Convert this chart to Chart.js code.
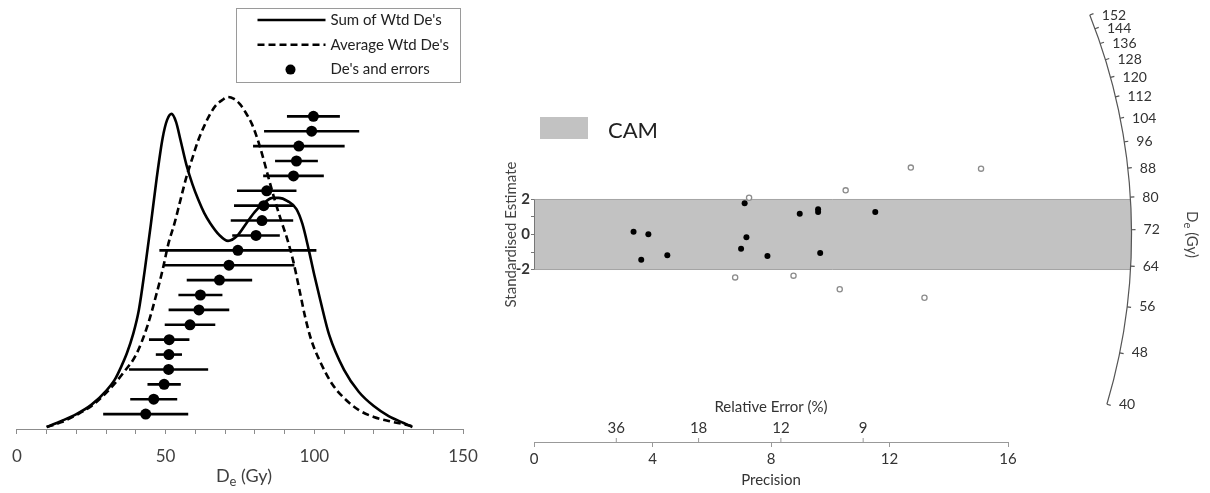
<!DOCTYPE html>
<html>
<head>
<meta charset="utf-8">
<script src="https://cdn.jsdelivr.net/npm/chart.js@4.4.0/dist/chart.umd.min.js"></script>
<style>
  html, body { margin: 0; padding: 0; background: #fff; }
  #wrap { position: relative; width: 1210px; height: 493px; overflow: hidden; }
  #dist { position: absolute; left: 0; top: 0; }
  #radial { position: absolute; left: 490px; top: 0; }
</style>
</head>
<body>
<div id="wrap">
  <canvas id="dist" width="490" height="493"></canvas>
  <canvas id="radial" width="720" height="493"></canvas>
</div>
<script>
const FONT = 'Lato, "Open Sans", sans-serif';

// ---- Dose distribution panel ----
// Summed weighted De kernel (Gy, relative density)
const sumDose = [10,15,20,25,30,33,35,37,39,41,43,45,47,49,50.5,52,53.5,55,57,59,61,63,65,68,71,74,77,80,83,86,88,91,94,96,98,100,102,105,110,115,120,125,130,133];
const sumDensity = [0.005,0.020,0.037,0.060,0.095,0.124,0.154,0.189,0.234,0.296,0.396,0.507,0.624,0.724,0.769,0.784,0.764,0.719,0.657,0.609,0.570,0.537,0.512,0.483,0.468,0.480,0.510,0.540,0.562,0.575,0.575,0.567,0.547,0.510,0.450,0.383,0.321,0.234,0.147,0.092,0.057,0.032,0.015,0.005];

// Average weighted De kernel
const avgDose = [10,15,20,25,30,33,36,40,44,47,49,51,53,55,57,59,61,63,65,67,69,71,73,75,77,79,81,83,85,87,89,91,93,95,97,99,102,106,110,115,120,125,130,133];
const avgDensity = [0.005,0.017,0.035,0.057,0.090,0.114,0.142,0.184,0.259,0.338,0.396,0.463,0.512,0.570,0.627,0.674,0.719,0.754,0.784,0.806,0.818,0.826,0.821,0.808,0.786,0.759,0.719,0.669,0.614,0.562,0.515,0.470,0.415,0.346,0.276,0.221,0.167,0.112,0.077,0.047,0.030,0.020,0.012,0.007];

// Individual aliquot De's (Gy) and 1-sigma errors, ranked from the bottom
const deValues = [43.3,46.0,49.5,51.0,51.1,51.2,58.2,61.2,61.7,68.1,71.3,74.3,80.4,82.4,83.0,84.0,93.0,94.0,94.8,99.1,99.7];
const deErrors = [14.3,7.9,5.6,13.3,4.4,6.8,8.5,10.2,7.4,11.0,22.0,26.4,8.0,10.5,10.0,10.0,10.2,7.2,15.4,16.0,8.9];

// ---- Radial plot panel ----
const precisionIn = [3.36,3.86,3.62,4.50,7.11,7.17,6.99,7.88,8.97,9.59,9.59,9.66,11.52];
const stdEstIn = [0.16,0.01,-1.44,-1.19,1.78,-0.16,-0.81,-1.23,1.19,1.44,1.29,-1.06,1.29];
const precisionOut = [7.26,6.79,8.76,10.52,10.32,12.72,13.18,15.09];
const stdEstOut = [2.10,-2.45,-2.35,2.52,-3.13,3.82,-3.61,3.76];

const camBand = [-2, 2];
const camDe = 70.9;          // central age model De (Gy)
const arcPrecision = 20.17;  // radius of the De scale, in precision units
const arcSlope = 0.876;
const deArcTicks = [40,48,56,64,72,80,88,96,104,112,120,128,136,144,152];
const relErrorTicks = [36,18,12,9];
const stdTicks = [-2,-1,0,1,2];

// draws e.g. D + subscript e + " (Gy)"
function drawSubLabel(ctx, parts, x, y, size, rotation, color) {
  ctx.save();
  ctx.translate(x, y);
  ctx.rotate(rotation);
  const big = size + 'px ' + FONT;
  const small = Math.round(size * 0.72) + 'px ' + FONT;
  let total = 0;
  parts.forEach(([t, sub]) => { ctx.font = sub ? small : big; total += ctx.measureText(t).width; });
  let cx = -total / 2;
  ctx.fillStyle = color;
  ctx.textBaseline = 'middle';
  ctx.textAlign = 'left';
  parts.forEach(([t, sub]) => {
    ctx.font = sub ? small : big;
    ctx.fillText(t, cx, sub ? size * 0.32 : 0);
    cx += ctx.measureText(t).width;
  });
  ctx.restore();
}

const errorBars = {
  id: 'errorBars',
  beforeDatasetsDraw(chart) {
    const { ctx } = chart;
    const xs = chart.scales.x, yr = chart.scales.yr;
    ctx.save();
    ctx.strokeStyle = '#000';
    ctx.lineWidth = 2.6;
    deValues.forEach((v, i) => {
      const y = yr.getPixelForValue(i + 1);
      ctx.beginPath();
      ctx.moveTo(xs.getPixelForValue(v - deErrors[i]), y);
      ctx.lineTo(xs.getPixelForValue(v + deErrors[i]), y);
      ctx.stroke();
    });
    ctx.restore();
  }
};

const boxLegend = {
  id: 'boxLegend',
  afterDraw(chart) {
    const { ctx } = chart;
    const x = 236.5, y = 8.5, w = 224, h = 74;
    ctx.save();
    ctx.strokeStyle = '#9a9a9a';
    ctx.lineWidth = 1;
    ctx.strokeRect(x, y, w, h);
    ctx.font = '15px ' + FONT;
    ctx.textBaseline = 'middle';
    chart.data.datasets.forEach((ds, i) => {
      const cy = y + 11.5 + i * 24.8;
      if (ds.showLine === false) {
        ctx.fillStyle = '#000';
        ctx.beginPath();
        ctx.arc(x + 54, cy, 5, 0, Math.PI * 2);
        ctx.fill();
      } else {
        ctx.strokeStyle = ds.borderColor;
        ctx.lineWidth = ds.borderWidth;
        ctx.setLineDash(ds.borderDash || []);
        ctx.beginPath();
        ctx.moveTo(x + 21, cy);
        ctx.lineTo(x + 89, cy);
        ctx.stroke();
        ctx.setLineDash([]);
      }
      ctx.fillStyle = '#222';
      ctx.fillText(ds.label, x + 94, cy);
    });
    ctx.restore();
  }
};

const doseTitle = {
  id: 'doseTitle',
  afterDraw(chart) {
    const a = chart.chartArea;
    drawSubLabel(chart.ctx, [['D', false], ['e', true], [' (Gy)', false]],
      (a.left + a.right) / 2 + 4, 476, 18, 0, '#404040');
  }
};

new Chart(document.getElementById('dist'), {
  type: 'line',
  data: {
    datasets: [
      {
        label: "Sum of Wtd De's",
        data: sumDose.map((d, i) => ({ x: d, y: sumDensity[i] })),
        yAxisID: 'yd', borderColor: '#000', borderWidth: 2.6,
        pointRadius: 0, cubicInterpolationMode: 'monotone', fill: false
      },
      {
        label: "Average Wtd De's",
        data: avgDose.map((d, i) => ({ x: d, y: avgDensity[i] })),
        yAxisID: 'yd', borderColor: '#000', borderWidth: 2.6, borderDash: [7, 4],
        pointRadius: 0, cubicInterpolationMode: 'monotone', fill: false
      },
      {
        label: "De's and errors",
        data: deValues.map((v, i) => ({ x: v, y: i + 1 })),
        yAxisID: 'yr', showLine: false,
        pointRadius: 5.5, pointBackgroundColor: '#000', pointBorderWidth: 0
      }
    ]
  },
  options: {
    responsive: false,
    animation: false,
    layout: { padding: { left: 14, right: 27, top: 27, bottom: 0 } },
    plugins: { legend: { display: false }, tooltip: { enabled: false } },
    scales: {
      x: {
        type: 'linear', min: 0, max: 150,
        ticks: {
          stepSize: 10, autoSkip: false, maxRotation: 0, padding: 12,
          color: '#404040', font: { family: FONT, size: 17 },
          callback: v => (v % 50 === 0 ? v : '')
        },
        grid: { drawOnChartArea: false, tickLength: 5, color: '#8c8c8c' },
        border: { color: '#8c8c8c' },
        afterFit(s) { s.height = 64; }
      },
      yd: { type: 'linear', display: false, min: 0, max: 1 },
      yr: { type: 'linear', display: false, min: 0, max: 27 }
    }
  },
  plugins: [errorBars, boxLegend, doseTitle]
});

const radialAxis = {
  id: 'radialAxis',
  beforeDatasetsDraw(chart) {
    const { ctx, chartArea } = chart;
    const xs = chart.scales.x, ys = chart.scales.y;
    const x0 = xs.getPixelForValue(0), y0 = ys.getPixelForValue(0);
    const R = xs.getPixelForValue(arcPrecision) - x0;
    const ux = xs.getPixelForValue(1) - x0;
    const uy = y0 - ys.getPixelForValue(1);
    const yTop = ys.getPixelForValue(camBand[1]);
    const yBot = ys.getPixelForValue(camBand[0]);
    const aTop = Math.asin((yTop - y0) / R);
    const aBot = Math.asin((yBot - y0) / R);
    ctx.save();

    // CAM 2-sigma band, closed by the De arc
    ctx.beginPath();
    ctx.moveTo(x0, yTop);
    ctx.arc(x0, y0, R, aTop, aBot);
    ctx.lineTo(x0, yBot);
    ctx.closePath();
    ctx.fillStyle = '#c2c2c2';
    ctx.fill();
    ctx.strokeStyle = '#a4a4a4';
    ctx.lineWidth = 1;
    ctx.beginPath();
    ctx.moveTo(x0, yTop); ctx.lineTo(x0 + R * Math.cos(aTop), yTop);
    ctx.moveTo(x0, yBot); ctx.lineTo(x0 + R * Math.cos(aBot), yBot);
    ctx.stroke();

    // short standardised-estimate axis
    ctx.strokeStyle = '#777';
    ctx.beginPath();
    ctx.moveTo(x0 + 0.5, yTop);
    ctx.lineTo(x0 + 0.5, yBot);
    ctx.stroke();

    // De (Gy) arc scale
    const ang = de => Math.atan2(-arcSlope * Math.log(de / camDe) * uy, ux);
    ctx.strokeStyle = '#555';
    ctx.lineWidth = 1.2;
    ctx.beginPath();
    ctx.arc(x0, y0, R, ang(deArcTicks[deArcTicks.length - 1]), ang(deArcTicks[0]));
    ctx.stroke();
    ctx.font = '14px ' + FONT;
    ctx.fillStyle = '#333';
    ctx.textBaseline = 'middle';
    ctx.textAlign = 'left';
    deArcTicks.forEach(de => {
      const a = ang(de), c = Math.cos(a), s = Math.sin(a);
      const px = x0 + R * c, py = y0 + R * s;
      ctx.beginPath();
      ctx.moveTo(px, py);
      ctx.lineTo(px + 4 * c, py + 4 * s);
      ctx.stroke();
      ctx.fillText(String(de), px + 12, py);
    });
    drawSubLabel(ctx, [['D', false], ['e', true], [' (Gy)', false]],
      chart.width - 18, y0, 15, Math.PI / 2, '#444');

    // relative error scale on top of the precision axis
    const yAx = chartArea.bottom;
    ctx.strokeStyle = '#999';
    ctx.lineWidth = 1;
    ctx.textAlign = 'center';
    ctx.font = '15px ' + FONT;
    relErrorTicks.forEach(e => {
      const px = xs.getPixelForValue(100 / e);
      ctx.beginPath();
      ctx.moveTo(px, yAx);
      ctx.lineTo(px, yAx - 4);
      ctx.stroke();
      ctx.fillText(String(e), px, yAx - 14);
    });
    ctx.fillText('Relative Error (%)', (chartArea.left + chartArea.right) / 2, yAx - 35);

    // CAM key
    ctx.fillStyle = '#c2c2c2';
    ctx.fillRect(50, 117, 48, 22);
    ctx.fillStyle = '#222';
    ctx.textAlign = 'left';
    ctx.font = '22px ' + FONT;
    ctx.fillText('CAM', 118, 131);
    ctx.restore();
  }
};

new Chart(document.getElementById('radial'), {
  type: 'scatter',
  data: {
    datasets: [
      {
        label: 'Within 2σ',
        data: precisionIn.map((p, i) => ({ x: p, y: stdEstIn[i] })),
        pointRadius: 3, pointBackgroundColor: '#000', pointBorderWidth: 0
      },
      {
        label: 'Outside 2σ',
        data: precisionOut.map((p, i) => ({ x: p, y: stdEstOut[i] })),
        pointRadius: 2.6, pointBackgroundColor: '#fff',
        pointBorderColor: '#8c8c8c', pointBorderWidth: 1.3
      }
    ]
  },
  options: {
    responsive: false,
    animation: false,
    layout: { padding: { left: 0, right: 202, top: 27, bottom: 0 } },
    plugins: { legend: { display: false }, tooltip: { enabled: false } },
    scales: {
      x: {
        type: 'linear', min: 0, max: 16,
        ticks: { stepSize: 4, padding: 3, maxRotation: 0, color: '#333', font: { family: FONT, size: 15 } },
        grid: { drawOnChartArea: false, tickLength: 5, color: '#999' },
        border: { color: '#999' },
        title: {
          display: true, text: 'Precision', color: '#333',
          font: { family: FONT, size: 15 }, padding: { top: 0, bottom: 4 }
        },
        afterFit(s) { s.height = 51; }
      },
      y: {
        type: 'linear', min: -11.85, max: 11.85,
        afterBuildTicks(s) { s.ticks = stdTicks.map(v => ({ value: v })); },
        ticks: {
          padding: 1, color: '#333', font: { family: FONT, size: 15, weight: 'bold' },
          callback: v => (v % 2 === 0 ? String(v) : '')
        },
        grid: { drawOnChartArea: false, tickLength: 3, color: '#777' },
        border: { display: false },
        title: {
          display: true, text: 'Standardised Estimate', color: '#444',
          font: { family: FONT, size: 15 }, padding: { top: 12, bottom: 0 }
        },
        afterFit(s) { s.width = 44; }
      }
    }
  },
  plugins: [radialAxis]
});
</script>
</body>
</html>
